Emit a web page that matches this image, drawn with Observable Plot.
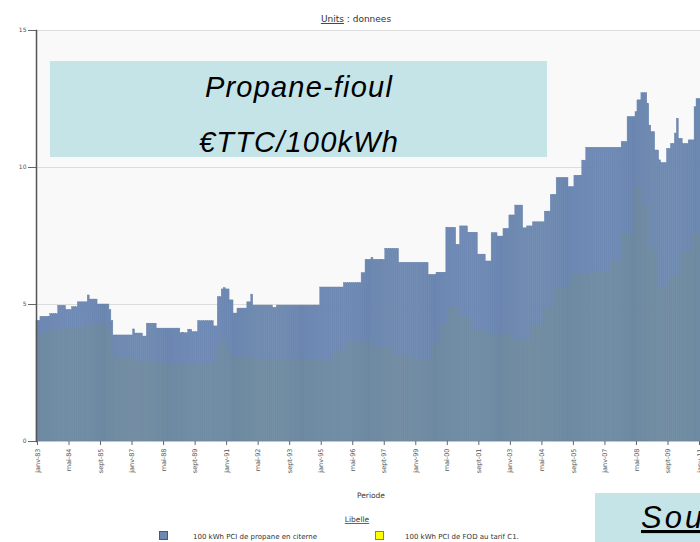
<!DOCTYPE html>
<html><head><meta charset="utf-8">
<script src="https://cdn.jsdelivr.net/npm/d3@7"></script>
<script src="https://cdn.jsdelivr.net/npm/@observablehq/plot@0.6"></script>
<style>
html,body{margin:0;padding:0;background:#fff;overflow:hidden;}
#wrap{position:relative;width:700px;height:542px;overflow:hidden;}
#chart,#notes{position:absolute;left:0;top:0;}
</style></head>
<body><div id="wrap"><div id="chart"></div>
<svg id="notes" width="700" height="542" font-family="DejaVu Sans, Verdana, sans-serif">
  <text x="356" y="22" text-anchor="middle" font-size="9" fill="#333"><tspan text-decoration="underline">Units</tspan> : donnees</text>
  <rect x="50" y="61" width="497" height="96" fill="#c5e4e8"/>
  <text x="299" y="97" text-anchor="middle" font-family="Liberation Sans, Arial, sans-serif" font-style="italic" font-size="29" letter-spacing="1.2" fill="#000">Propane-fioul</text>
  <text x="299" y="152" text-anchor="middle" font-family="Liberation Sans, Arial, sans-serif" font-style="italic" font-size="29" letter-spacing="1.2" fill="#000">€TTC/100kWh</text>
  <text x="371" y="498" text-anchor="middle" font-size="7.5" fill="#333">Periode</text>
  <text x="357" y="522" text-anchor="middle" font-size="7.5" fill="#333" text-decoration="underline">Libelle</text>
  <rect x="159.5" y="531.5" width="8" height="8" fill="#6d89b2" stroke="#3f5a85"/>
  <text x="193" y="539" font-size="7" fill="#333">100 kWh PCI de propane en citerne</text>
  <rect x="375.5" y="531.5" width="8" height="8" fill="#ffff00" stroke="#8a8a20"/>
  <text x="405" y="539" font-size="7" fill="#333">100 kWh PCI de FOD au tarif C1.</text>
  <rect x="595" y="493" width="120" height="60" fill="#c5e4e8"/>
  <text x="641" y="528" font-family="Liberation Sans, Arial, sans-serif" font-style="italic" font-size="31" letter-spacing="3" fill="#000" text-decoration="underline">Source</text>
</svg>
</div>
<script>
// Monthly values from janv-83, one row per year (€ TTC / 100 kWh)
const startYear = 1983;
const monthNames = ["janv","févr","mars","avr","mai","juin","juil","août","sept","oct","nov","déc"];
const tickLabels = ["janv-83","mai-84","sept-85","janv-87","mai-88","sept-89","janv-91","mai-92","sept-93","janv-95","mai-96","sept-97","janv-99","mai-00","sept-01","janv-03","mai-04","sept-05","janv-07","mai-08","sept-09","janv-11"];
const yTicks = [0, 5, 10, 15];

const propane = [
  4.4,4.4,4.55,4.55,4.55,4.55,4.55,4.65,4.65,4.65,4.65,4.95,
  4.95,4.95,4.95,4.8,4.8,4.8,4.9,4.9,4.9,5.08,5.08,5.08,
  5.08,5.08,5.33,5.18,5.18,5.18,5.18,5.0,5.0,5.0,5.0,5.0,
  5.0,4.8,4.4,3.87,3.87,3.87,3.87,3.87,3.87,3.87,3.87,3.87,
  3.87,4.09,3.94,3.94,3.94,3.94,3.83,3.83,4.3,4.3,4.3,4.3,
  4.3,4.12,4.12,4.12,4.12,4.12,4.12,4.12,4.12,4.12,4.12,4.12,
  4.12,3.95,3.95,3.95,3.95,4.08,4.08,3.99,3.99,3.99,4.39,4.39,
  4.39,4.39,4.39,4.39,4.39,4.39,4.2,4.2,5.27,5.27,5.55,5.6,
  5.55,5.55,5.15,5.15,4.67,4.67,4.85,4.85,4.85,4.85,4.85,5.08,
  5.08,5.36,4.96,4.96,4.96,4.96,4.96,4.96,4.96,4.96,4.96,4.96,
  4.88,4.88,4.96,4.96,4.96,4.96,4.96,4.96,4.96,4.96,4.96,4.96,
  4.96,4.96,4.96,4.96,4.96,4.96,4.96,4.96,4.96,4.96,4.96,4.96,
  5.62,5.62,5.62,5.62,5.62,5.62,5.62,5.62,5.62,5.62,5.62,5.62,
  5.78,5.78,5.78,5.78,5.78,5.78,5.78,5.78,5.78,6.14,6.14,6.63,
  6.63,6.63,6.7,6.63,6.63,6.63,6.63,6.63,6.63,7.03,7.03,7.03,
  7.03,7.03,7.03,7.03,6.52,6.52,6.52,6.52,6.52,6.52,6.52,6.52,
  6.52,6.52,6.52,6.52,6.52,6.52,6.52,6.08,6.08,6.08,6.08,6.16,
  6.16,6.16,6.16,6.16,7.8,7.8,7.8,7.8,7.8,7.18,7.18,7.85,
  7.85,7.85,7.85,7.62,7.62,7.62,7.62,7.62,6.82,6.82,6.82,6.82,
  6.57,6.57,6.57,7.6,7.6,7.6,7.48,7.48,7.48,7.76,7.76,7.76,
  8.25,8.25,8.25,8.61,8.61,8.61,8.61,7.78,7.78,7.85,7.85,7.85,
  8.0,8.0,8.0,8.0,8.0,8.0,8.39,8.39,8.39,9.0,9.0,9.0,
  9.62,9.62,9.62,9.62,9.62,9.62,9.28,9.28,9.28,9.7,9.7,9.7,
  9.7,10.25,10.25,10.72,10.72,10.72,10.72,10.72,10.72,10.72,10.72,10.72,
  10.72,10.72,10.72,10.72,10.72,10.72,10.72,10.72,10.72,10.93,10.93,10.93,
  11.84,11.84,11.84,11.84,12.02,12.45,12.45,12.71,12.71,12.71,12.32,11.53,
  11.29,11.29,10.62,10.62,10.26,10.16,10.16,10.16,10.68,10.68,10.86,10.86,
  11.24,11.78,11.05,11.05,10.86,10.86,10.86,10.99,10.99,10.99,12.2,12.5,
  12.5
];

const fod = [
  3.95,3.95,3.95,3.95,3.95,3.95,4.05,4.05,4.05,4.05,4.05,4.05,
  4.1,4.1,4.1,4.1,4.1,4.1,4.15,4.15,4.15,4.15,4.15,4.15,
  4.25,4.25,4.25,4.25,4.25,4.25,4.3,4.3,4.3,4.3,4.3,4.3,
  4.1,3.7,3.3,3.05,3.05,3.05,3.05,3.05,3.05,3.0,3.0,3.0,
  3.0,3.0,3.0,2.9,2.9,2.9,2.9,2.9,2.9,2.9,2.9,2.9,
  2.9,2.85,2.85,2.85,2.85,2.85,2.85,2.85,2.85,2.85,2.85,2.85,
  2.85,2.8,2.8,2.8,2.8,2.8,2.8,2.8,2.8,2.8,2.8,2.8,
  2.8,2.85,2.85,2.85,2.85,2.85,2.85,3.4,3.4,3.7,3.7,3.7,
  3.7,3.3,3.3,3.05,3.05,3.05,3.05,3.05,3.05,3.05,3.05,3.05,
  3.05,3.05,3.05,3.0,3.0,3.0,3.0,3.0,3.0,3.0,3.0,3.0,
  3.0,3.0,3.0,3.0,3.0,3.0,3.0,3.0,3.0,3.0,3.0,3.0,
  3.0,3.0,3.0,3.0,3.0,3.0,3.0,3.0,3.0,3.0,3.0,3.0,
  3.0,3.0,3.0,3.0,3.0,3.0,3.0,3.3,3.3,3.3,3.3,3.3,
  3.3,3.65,3.65,3.65,3.65,3.65,3.65,3.65,3.65,3.65,3.65,3.65,
  3.65,3.65,3.65,3.4,3.4,3.4,3.4,3.4,3.4,3.4,3.4,3.4,
  3.4,3.1,3.1,3.1,3.1,3.1,3.1,3.1,3.1,3.1,3.1,2.95,
  2.95,2.95,2.95,2.95,2.95,2.95,2.95,2.95,2.95,3.6,3.6,3.6,
  3.6,4.3,4.3,4.3,4.3,4.9,4.9,4.9,4.9,4.9,4.9,4.5,
  4.5,4.5,4.5,4.5,4.5,4.05,4.05,4.05,4.05,4.05,4.05,4.05,
  4.05,3.9,3.9,3.9,3.9,3.9,3.9,3.9,3.9,3.9,3.9,3.9,
  3.9,3.7,3.7,3.7,3.7,3.7,3.7,3.7,3.7,3.7,3.7,4.2,
  4.2,4.2,4.2,4.2,4.2,4.9,4.9,4.9,4.9,4.9,4.9,5.6,
  5.6,5.6,5.6,5.6,5.6,5.6,5.6,6.1,6.1,6.1,6.1,6.1,
  6.1,6.1,6.1,6.1,6.1,6.1,6.1,6.2,6.2,6.2,6.2,6.2,
  6.2,6.2,6.2,6.6,6.6,6.6,6.6,6.6,6.6,7.6,7.6,7.6,
  7.6,7.6,7.6,9.3,9.3,9.3,9.3,8.6,8.6,8.6,8.6,7.0,
  7.0,7.0,7.0,5.6,5.6,5.6,5.6,5.6,5.6,6.0,6.0,6.0,
  6.0,6.0,6.0,6.9,6.9,6.9,6.9,6.9,6.9,7.6,7.6,7.6,
  7.6
];

const periods = propane.map((_, i) =>
  monthNames[i % 12] + "-" + String(startYear + Math.floor(i / 12)).slice(-2));
const rows = periods.map((p, i) => ({period: p, propane: propane[i], fod: fod[i]}));

const chart = Plot.plot({
  width: 700, height: 480,
  marginLeft: 36, marginRight: 0, marginTop: 30, marginBottom: 39,
  style: {fontFamily: "DejaVu Sans, Verdana, sans-serif", fontSize: "6px", color: "#555", background: "transparent", overflow: "visible"},
  x: {type: "band", domain: periods, padding: 0, label: null},
  y: {domain: [0, 15], label: null},
  marks: [
    Plot.frame({fill: "#f9f9f9", stroke: null}),
    Plot.gridY({ticks: yTicks, stroke: "#dcdcdc", strokeOpacity: 1}),
    Plot.barY(rows, {x: "period", y: "propane", fill: "#6e8ab4", stroke: "#637fa8", strokeWidth: 0.4}),
    Plot.barY(rows, {x: "period", y: "fod", fill: "#8ba226", fillOpacity: 0.1}),
    Plot.axisY({ticks: yTicks, tickSize: 8, tickPadding: 2, fontSize: 6, stroke: "#666"}),
    Plot.axisX({ticks: tickLabels, tickRotate: -90, tickSize: 4, tickPadding: 3, fontSize: 6.5, stroke: "#666"}),
    Plot.frame({anchor: "left", stroke: "#555", strokeWidth: 1.5})
  ]
});
document.getElementById("chart").appendChild(chart);
</script>
</body></html>
